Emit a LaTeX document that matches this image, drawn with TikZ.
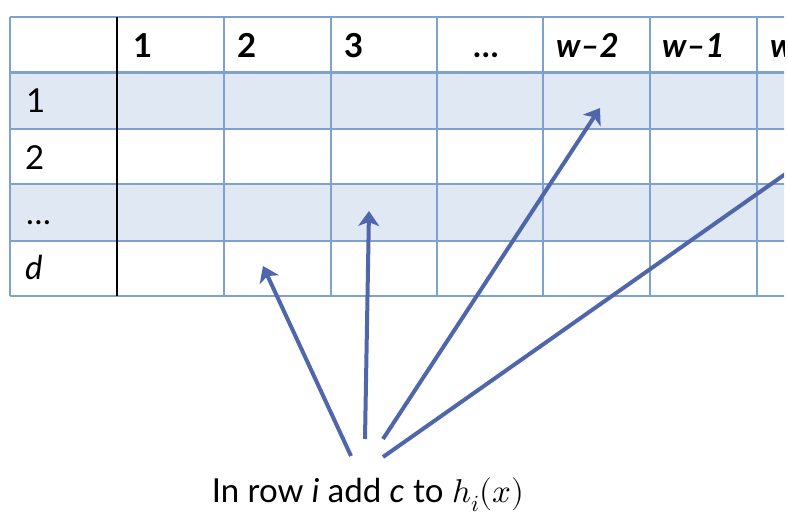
\documentclass[tikz,border=0pt]{standalone}
\usepackage{fontspec}
\usepackage{unicode-math}
\setmainfont{Lato}
\setmathfont{Latin Modern Math}
\usetikzlibrary{arrows.meta}
\definecolor{gridc}{RGB}{125,162,208}
\definecolor{fillc}{RGB}{224,232,244}
\definecolor{arrc}{RGB}{79,103,170}
\tikzset{
  lbl/.style={anchor=base west, inner sep=0pt, font=\fontsize{33}{38}\selectfont},
  hdr/.style={lbl, font=\fontsize{33}{38}\selectfont\bfseries},
  gridline/.style={draw=gridc, line width=1.8pt},
  ptr/.style={draw=arrc, line width=4pt, -{Stealth[length=15pt, width=21pt, inset=4pt]}},
}
\begin{document}
\begin{tikzpicture}[x=1pt, y=-1pt]
\useasboundingbox (0,0) rectangle (788,518);
\begin{scope}
\clip (0,0) rectangle (784,518);
% shaded rows
\fill[fillc] (10,72) rectangle (800,129);
\fill[fillc] (10,184) rectangle (800,241);
% horizontal lines
\foreach \y in {17,129,184,241,296} \draw[gridline] (10,\y) -- (800,\y);
\draw[draw=gridc, line width=3pt] (10,72.5) -- (800,72.5);
% vertical lines
\foreach \x in {10,224,331,437,543,650,757} \draw[gridline] (\x,17) -- (\x,296);
\draw[black, line width=1.6pt] (117,17) -- (117,296);
% last header label, cut at the edge
\node[hdr] (c7) at (770,58) {\itshape w};
% clipped arrow
\coordinate (t4) at (383,457);
\coordinate (h4) at (840,135.6);
\draw[ptr] (t4) -- (h4);
\end{scope}
% header
\node[hdr] (c1) at (133,58) {1};
\node[hdr] (c2) at (237,58) {2};
\node[hdr] (c3) at (344,58) {3};
\node[hdr] (c4) at (473,58) {…};
\node[hdr] (c5) at (556,58) {\itshape w–2};
\node[hdr] (c6) at (662,58) {\itshape w–1};
% row labels
\node[lbl] (r1) at (26,113) {1};
\node[lbl] (r2) at (25,170) {2};
\node[lbl] (r3) at (26,225) {…};
\node[lbl] (r4) at (25,280) {\itshape d};
% caption
\node[lbl, anchor=base] (cap) at (368,503) {In row \textit{i} add \textit{c} to $h_i(x)$};
% arrows
\coordinate (t1) at (351,456);
\coordinate (h1) at (263,266);
\coordinate (t2) at (365,439);
\coordinate (h2) at (369,211);
\coordinate (t3) at (383,439);
\coordinate (h3) at (600,108);
\draw[ptr] (t1) -- (h1);
\draw[ptr] (t2) -- (h2);
\draw[ptr] (t3) -- (h3);
\end{tikzpicture}
\end{document}
